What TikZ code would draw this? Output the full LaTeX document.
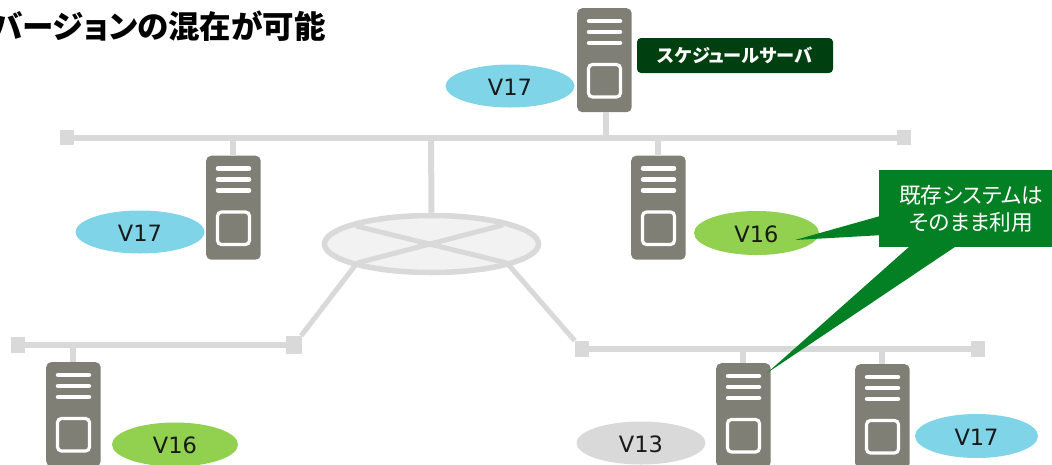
\documentclass[tikz,border=0pt]{standalone}
\usepackage{fontspec}
\setmainfont{DejaVu Sans}
\newfontfamily\cjk{Noto Sans CJK JP}
\newfontfamily\cjkp[RawFeature=+palt]{Noto Sans CJK JP}
\usetikzlibrary{shapes.geometric}
\definecolor{wirec}{HTML}{D9D9D9}
\definecolor{srvc}{HTML}{7F7F75}
\definecolor{blu}{HTML}{7FD4E8}
\definecolor{grn}{HTML}{92D050}
\definecolor{callc}{HTML}{038023}
\definecolor{darkg}{HTML}{004010}
\tikzset{
  wire/.style={draw=wirec,line width=6pt},
  endsq/.style={fill=wirec,draw=none,minimum width=14pt,minimum height=16pt,inner sep=0pt},
  server/.style={fill=srvc,draw=none,rounded corners=5pt,minimum width=54.5pt,minimum height=104pt,inner sep=0pt,anchor=north west},
  srvline/.style={draw=white,line width=4.5pt,line cap=round},
  srvbox/.style={draw=white,line width=3.2pt,rounded corners=4pt},
  ver/.style={ellipse,draw=none,inner sep=0pt,minimum width=129pt,minimum height=43pt,font=\fontsize{22.5}{24}\selectfont,text=black!90,text height=18.4pt,text depth=0pt},
  callout/.style={fill=callc,draw=none},
}
\newcommand{\srv}[3]{%
  \node[server] (#1) at (#2,#3) {};
  \draw[srvline] ([shift={(12,13)}]#1.north west) -- ([shift={(43,13)}]#1.north west);
  \draw[srvline] ([shift={(12,24)}]#1.north west) -- ([shift={(43,24)}]#1.north west);
  \draw[srvline] ([shift={(12,35)}]#1.north west) -- ([shift={(43,35)}]#1.north west);
  \draw[srvbox] ([shift={(11.5,56.5)}]#1.north west) rectangle ([shift={(43.5,89)}]#1.north west);
}
\begin{document}
\begin{tikzpicture}[x=1pt,y=-1pt]
\useasboundingbox (0,0) rectangle (1052,464);
\clip (0,0) rectangle (1052,464);
% buses
\node[endsq,minimum height=15pt] (t1) at (67,137.5) {};
\node[endsq,minimum height=15pt] (t2) at (904,137.5) {};
\node[endsq] (l1) at (18,345) {};
\node[endsq,minimum width=16pt,minimum height=18pt] (l2) at (294,345) {};
\node[endsq] (r1) at (582,349) {};
\node[endsq] (r2) at (978,349) {};
\draw[wire] (t1) -- (t2);
\draw[wire] (l1) -- (l2);
\draw[wire] (r1) -- (r2);
% hub
\node[ellipse,draw=wirec,fill=black!5,line width=5.5pt,minimum width=214pt,minimum height=57pt,inner sep=0pt] (hub) at (431.5,244) {};
\coordinate (a1) at (356,226);
\coordinate (a2) at (507,263);
\coordinate (a3) at (503,225);
\coordinate (a4) at (357,263);
\draw[draw=wirec,line width=5pt] (a1) -- (a2);
\draw[draw=wirec,line width=5pt] (a3) -- (a4);
\draw[draw=wirec,line width=5pt] (a4) -- (l2);
\draw[draw=wirec,line width=5pt] (a2) -- (r1);
\draw[wire] (431,137) -- (hub.north);
% servers
\srv{s1}{577}{8}
\srv{s2}{206}{155.5}
\srv{s3}{631}{155.5}
\srv{s4}{46}{362}
\srv{s5}{716}{363}
\srv{s6}{855}{364}
\draw[wire] (s1.south) ++(2,0) -- ++(0,26);
\draw[wire] (s2.north) -- (s2.north |- t1);
\draw[wire] (s3.north) -- (s3.north |- t1);
\draw[wire] (s4.north) -- (s4.north |- l1);
\draw[wire] (s5.north) -- (s5.north |- r1);
\draw[wire] (s6.north) -- (s6.north |- r1);
% version labels
\node[ver,fill=blu] (v1) at (510,86) {V17};
\node[ver,fill=blu] (v2) at (140,232) {V17};
\node[ver,fill=grn,minimum width=125pt,minimum height=44pt] (v3) at (756.5,233) {V16};
\node[ver,fill=grn,minimum width=126pt,minimum height=44pt] (v4) at (175,444.5) {V16};
\node[ver,fill=wirec] (v5) at (641,443) {V13};
\node[ver,fill=blu,minimum width=123pt,minimum height=44pt] (v6) at (976.5,436) {V17};
% schedule server label
\node[fill=darkg,rounded corners=4pt,minimum width=196pt,minimum height=35pt,inner sep=0pt,text=white,font=\cjkp\bfseries\fontsize{18.2}{19}\selectfont] (sch) at (735,55.5) {スケジュールサーバ};
% callout
\coordinate (tipa) at (795,240);
\coordinate (tipb) at (767,373);
\node[callout,minimum width=184pt,minimum height=77pt,inner sep=0pt,anchor=north west,text=white,align=center,font=\cjkp\fontsize{21.7}{27}\selectfont] (note) at (879,170) {既存システムは\\そのまま利用};
\fill[callout] ([shift={(0.5,7.5)}]note.west) -- (tipa) -- ([shift={(0.5,26.5)}]note.west) -- cycle;
\fill[callout] ([shift={(30,-0.5)}]note.south west) -- (tipb) -- ([shift={(76,-0.5)}]note.south west) -- cycle;
% title
\node[anchor=east,inner sep=0pt,font=\cjkp\bfseries\fontsize{31.5}{32}\selectfont] (title) at (326,26) {バージョンの混在が可能};
\end{tikzpicture}
\end{document}
